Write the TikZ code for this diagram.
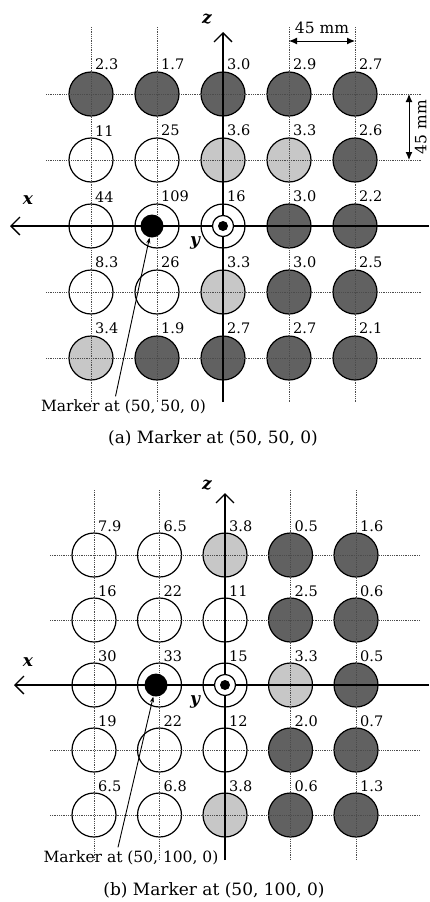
\documentclass[tikz,border=0pt]{standalone}
\usepackage{fontspec}
\setmainfont{DejaVu Serif}
\usetikzlibrary{arrows.meta}
\begin{document}
\begin{tikzpicture}[x=1pt,y=-1pt,
  gridline/.style={densely dotted,line width=0.8pt,black!70},
  axisarrow/.style={line width=1.3pt,-{Straight Barb[length=9pt,width=18pt]}},
  sensor/.style={circle,draw,line width=1.2pt,minimum size=44pt,inner sep=0pt},
  dark/.style={sensor,fill=black!62},
  pale/.style={sensor,fill=black!22},
  blank/.style={sensor,fill=white},
  reading/.style={anchor=south west,inner sep=1pt,font=\fontsize{14.5}{16}\selectfont},
  axlabel/.style={font=\fontsize{17}{18}\selectfont\bfseries\itshape},
  marker/.style={circle,fill=black,minimum size=23pt,inner sep=0pt},
  ring/.style={circle,draw,line width=1.2pt,fill=white,minimum size=21pt,inner sep=0pt},
  hub/.style={circle,fill=black,minimum size=10pt,inner sep=0pt},
  leader/.style={line width=0.9pt,-{Stealth[length=6pt,width=4pt]}},
  dim/.style={line width=1pt,{Latex[length=8pt,width=7pt]}-{Latex[length=8pt,width=7pt]}},
  note/.style={font=\fontsize{15.5}{17}\selectfont},
  subcap/.style={font=\fontsize{17}{19}\selectfont}]
\useasboundingbox (0,0) rectangle (430,902);

% (a) marker at (50, 50, 0)
\foreach \c/\r/\s/\v in {1/1/dark/2.3, 2/1/dark/1.7, 3/1/dark/3.0, 4/1/dark/2.9, 5/1/dark/2.7,
  1/2/blank/11, 2/2/blank/25, 3/2/pale/3.6, 4/2/pale/3.3, 5/2/dark/2.6,
  1/3/blank/44, 2/3/blank/109, 3/3/blank/16, 4/3/dark/3.0, 5/3/dark/2.2,
  1/4/blank/8.3, 2/4/blank/26, 3/4/pale/3.3, 4/4/dark/3.0, 5/4/dark/2.5,
  1/5/pale/3.4, 2/5/dark/1.9, 3/5/dark/2.7, 4/5/dark/2.7, 5/5/dark/2.1}
{
  \node[\s] (a\c\r) at ({25+66*\c},{28+66*\r}) {};
  \node[reading] at ([xshift=3pt]a\c\r.north) {\v};
}
\foreach \c in {1,2,4,5}
  \draw[gridline] (a\c1 |- 0,27) -- (a\c5 |- 0,402);
\foreach \r in {1,2,4,5}
  \draw[gridline] (46,0 |- a1\r) -- (422,0 |- a1\r);
\draw[axisarrow] (429,0 |- a33) -- (10,0 |- a33);
\draw[axisarrow] (a33 |- 0,402) -- (a33 |- 0,32);
\node[axlabel] at (28,200) {x};
\node[axlabel] at (207,19) {z};
\node[axlabel] at (195,243) {y};
\node[ring] at (a33) {};
\node[hub] at (a33) {};
\node[marker] (adot) at ([xshift=-5pt]a23.center) {};
\draw[dim] (a41 |- 0,41) -- (a51 |- 0,41) node[note,midway,above=3pt] {45 mm};
\draw[dim] (409,0 |- a51) -- (409,0 |- a52) node[note,midway,right=2pt,anchor=north,rotate=90] {45 mm};
\node[note] (anote) at (123.5,407) {Marker at (50, 50, 0)};
\draw[leader] ([xshift=-8pt]anote.north) -- (adot);
\node[subcap] at (213,438) {(a) Marker at (50, 50, 0)};

% (b) marker at (50, 100, 0)
\foreach \c/\r/\s/\v in {1/1/blank/7.9, 2/1/blank/6.5, 3/1/pale/3.8, 4/1/dark/0.5, 5/1/dark/1.6,
  1/2/blank/16, 2/2/blank/22, 3/2/blank/11, 4/2/dark/2.5, 5/2/dark/0.6,
  1/3/blank/30, 2/3/blank/33, 3/3/blank/15, 4/3/pale/3.3, 5/3/dark/0.5,
  1/4/blank/19, 2/4/blank/22, 3/4/blank/12, 4/4/dark/2.0, 5/4/dark/0.7,
  1/5/blank/6.5, 2/5/blank/6.8, 3/5/pale/3.8, 4/5/dark/0.6, 5/5/dark/1.3}
{
  \node[\s] (b\c\r) at ({28.5+65.5*\c},{490+65*\r}) {};
  \node[reading] at ([xshift=3pt]b\c\r.north) {\v};
}
\foreach \c in {1,2,4,5}
  \draw[gridline] (b\c1 |- 0,490) -- (b\c5 |- 0,860);
\foreach \r in {1,2,4,5}
  \draw[gridline] (50,0 |- b1\r) -- (420,0 |- b1\r);
\draw[axisarrow] (429,0 |- b33) -- (14,0 |- b33);
\draw[axisarrow] (b33 |- 0,860) -- (b33 |- 0,493);
\node[axlabel] at (28,662) {x};
\node[axlabel] at (207,485) {z};
\node[axlabel] at (195,702) {y};
\node[ring] at (b33) {};
\node[hub] at (b33) {};
\node[marker] (bdot) at ([xshift=-3.5pt]b23.center) {};
\node[note] (bnote) at (131,858) {Marker at (50, 100, 0)};
\draw[leader] ([xshift=-13pt]bnote.north) -- (bdot);
\node[subcap] at (214,890) {(b) Marker at (50, 100, 0)};
\end{tikzpicture}
\end{document}
